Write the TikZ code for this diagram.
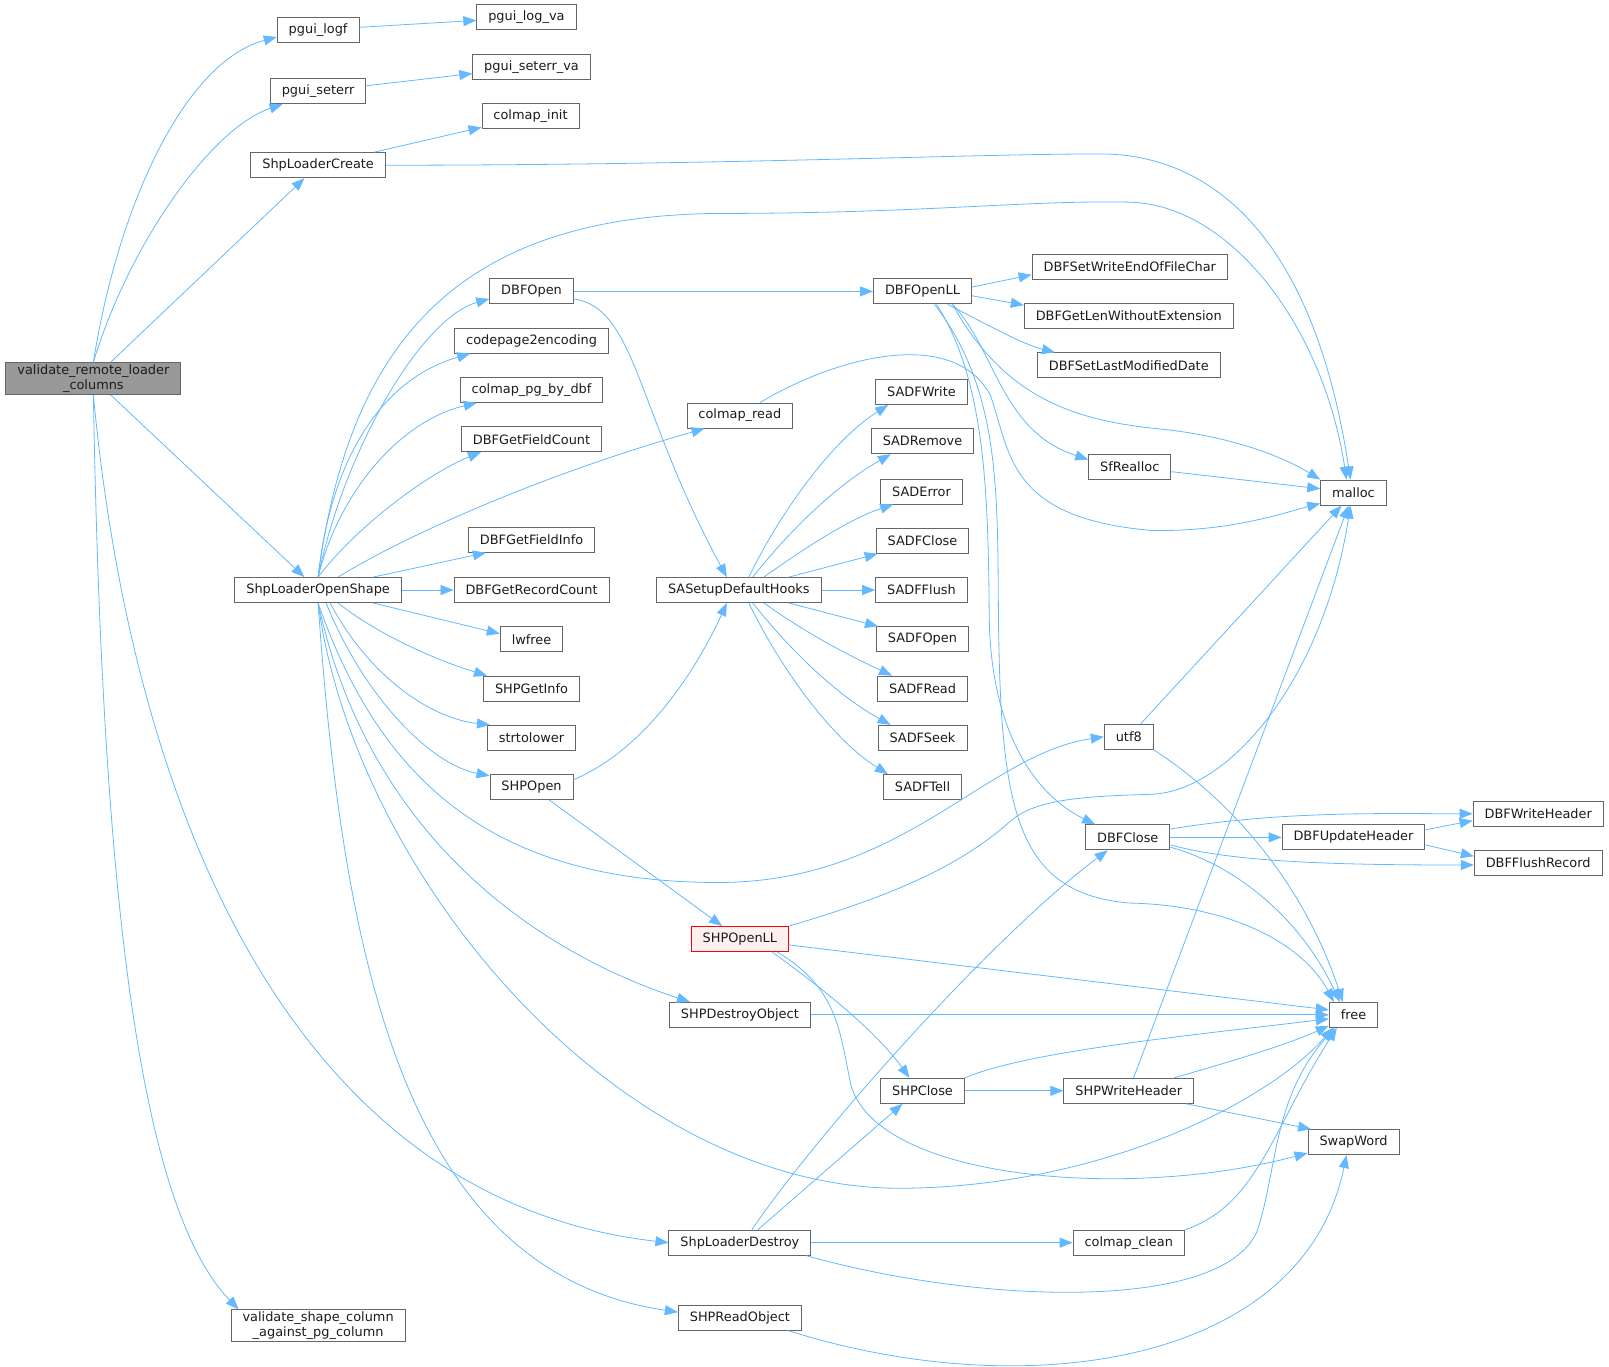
\documentclass[tikz,border=0pt]{standalone}
\usepackage{fontspec}
\setmainfont{DejaVu Sans}
\usetikzlibrary{arrows.meta}
\definecolor{callblue}{HTML}{63B8FF}
\definecolor{boxline}{HTML}{666666}
\definecolor{rootfill}{HTML}{999999}
\definecolor{ovlfill}{HTML}{FFF0F0}
\definecolor{txt}{HTML}{1C1C1C}

\begin{document}
\begin{tikzpicture}[x=1.0262pt, y=-1.0262pt,
  fn/.style={draw=boxline, fill=white, line width=0.9pt, rectangle, minimum height=25pt,
    inner xsep=11.5pt, inner ysep=2pt, text=txt, font=\fontsize{12.9}{15}\selectfont},
  call/.style={draw=callblue, line width=0.8pt, -{Triangle[length=13pt,width=10pt]}}]
\useasboundingbox (0,0) rectangle (1568,1332);

% Functions
\node[fn, fill=rootfill, align=center] (vrlc) at (91,369) {validate\_remote\_loader\\\_columns};
\node[fn] (logf) at (310,29) {pgui\_logf};
\node[fn] (logva) at (513,17) {pgui\_log\_va};
\node[fn] (seterr) at (310,89) {pgui\_seterr};
\node[fn] (seterrva) at (518,65) {pgui\_seterr\_va};
\node[fn] (colinit) at (517,113) {colmap\_init};
\node[fn] (slc) at (310,161) {ShpLoaderCreate};
\node[fn] (slos) at (310,575) {ShpLoaderOpenShape};
\node[fn, align=center] (vscapc) at (310,1292) {validate\_shape\_column\\\_against\_pg\_column};
\node[fn] (dbfopen) at (518,284) {DBFOpen};
\node[fn] (cp2enc) at (518,332) {codepage2encoding};
\node[fn] (colpg) at (518,380) {colmap\_pg\_by\_dbf};
\node[fn] (dbfgfc) at (518,428) {DBFGetFieldCount};
\node[fn] (dbfgfi) at (518,526) {DBFGetFieldInfo};
\node[fn] (dbfgrc) at (518,575) {DBFGetRecordCount};
\node[fn] (lwfree) at (518,623) {lwfree};
\node[fn] (shpgi) at (518,671) {SHPGetInfo};
\node[fn] (strtl) at (518,719) {strtolower};
\node[fn] (shpopen) at (518,767) {SHPOpen};
\node[fn] (colread) at (721,405) {colmap\_read};
\node[fn] (sasdh) at (720,575) {SASetupDefaultHooks};
\node[fn] (sadfwrite) at (898,382) {SADFWrite};
\node[fn] (sadremove) at (899,430) {SADRemove};
\node[fn] (saderror) at (898,479) {SADError};
\node[fn] (sadfclose) at (899,527) {SADFClose};
\node[fn] (sadfflush) at (898,575) {SADFFlush};
\node[fn] (sadfopen) at (899,623) {SADFOpen};
\node[fn] (sadfread) at (899,671) {SADFRead};
\node[fn] (sadfseek) at (899,719) {SADFSeek};
\node[fn] (sadftell) at (899,767) {SADFTell};
\node[fn] (dbfopenll) at (899,284) {DBFOpenLL};
\node[fn] (dbfswe) at (1101,260) {DBFSetWriteEndOfFileChar};
\node[fn] (dbfglwe) at (1100,308) {DBFGetLenWithoutExtension};
\node[fn] (dbfslmd) at (1100,356) {DBFSetLastModifiedDate};
\node[fn] (sfrealloc) at (1101,455) {SfRealloc};
\node[fn] (malloc) at (1319,480) {malloc};
\node[fn] (utf8) at (1100,718) {utf8};
\node[fn] (dbfclose) at (1099,816) {DBFClose};
\node[fn] (dbfuh) at (1319,816) {DBFUpdateHeader};
\node[fn] (dbfwh) at (1499,793) {DBFWriteHeader};
\node[fn] (dbffr) at (1499,841) {DBFFlushRecord};
\node[fn, draw=red, fill=ovlfill] (shpopenll) at (721,915) {SHPOpenLL};
\node[fn] (free) at (1319,989) {free};
\node[fn] (shpdo) at (721,989) {SHPDestroyObject};
\node[fn] (shpclose) at (899,1063) {SHPClose};
\node[fn] (shpwh) at (1100,1063) {SHPWriteHeader};
\node[fn] (swapword) at (1319,1113) {SwapWord};
\node[fn] (sld) at (721,1211) {ShpLoaderDestroy};
\node[fn] (colclean) at (1100,1211) {colmap\_clean};
\node[fn] (shpro) at (721,1284) {SHPReadObject};

% Calls from the root
\draw[call] (vrlc.north) .. controls (115,200) and (180,60) .. (logf.190);
\draw[call] (vrlc.north) .. controls (125,240) and (205,125) .. (seterr.200);
\draw[call] (vrlc) -- (slc);
\draw[call] (vrlc) -- (slos);
\draw[call] (vrlc.south) .. controls (130,800) and (290,1170) .. (sld.west);
\draw[call] (vrlc.south) .. controls (100,900) and (140,1180) .. ([xshift=8pt]vscapc.north west);

% Calls from the loader
\draw[call] (logf) -- (logva);
\draw[call] (seterr) -- (seterrva);
\draw[call] (slc) -- (colinit);
\draw[call] (slc.east) .. controls (700,161) and (950,150) .. (1072,150) .. controls (1180,150) and (1280,230) .. ([xshift=-3pt]malloc.north);
\draw[call] (slos.north) .. controls (340,330) and (450,210) .. (700,208) .. controls (900,208) and (1000,195) .. (1100,197) .. controls (1200,199) and (1290,320) .. ([xshift=-7pt]malloc.north);
\draw[call] (slos.north) .. controls (335,440) and (410,310) .. (dbfopen.190);
\draw[call] (slos.north) .. controls (322,450) and (370,370) .. ([xshift=16pt]cp2enc.south west);
\draw[call] (slos.north) .. controls (330,480) and (390,410) .. ([xshift=17pt]colpg.south west);
\draw[call] (slos.north) .. controls (350,510) and (420,460) .. ([xshift=20pt]dbfgfc.south west);
\draw[call] ([xshift=20pt]slos.north) .. controls (390,525) and (520,465) .. ([xshift=18pt]colread.south west);
\draw[call] ([xshift=55pt]slos.north) -- ([xshift=18pt]dbfgfi.south west);
\draw[call] (slos) -- (dbfgrc);
\draw[call] ([xshift=55pt]slos.south) -- (lwfree.170);
\draw[call] ([xshift=20pt]slos.south) .. controls (370,620) and (430,645) .. ([xshift=4pt]shpgi.north west);
\draw[call] ([xshift=12pt]slos.south) .. controls (360,660) and (420,700) .. ([xshift=3pt]strtl.north west);
\draw[call] ([xshift=8pt]slos.south) .. controls (355,680) and (420,745) .. (shpopen.165);
\draw[call] (slos.south) .. controls (370,760) and (480,860) .. (700,860) .. controls (880,860) and (960,735) .. (utf8.west);
\draw[call] (slos.south) .. controls (345,850) and (600,1160) .. (880,1158) .. controls (1080,1156) and (1240,1070) .. ([xshift=4pt]free.south west);
\draw[call] (slos.south) .. controls (360,820) and (530,930) .. ([xshift=21pt]shpdo.north west);
\draw[call] (slos.south) .. controls (335,950) and (400,1240) .. (shpro.175);

% Calls from the readers
\draw[call] (dbfopen) -- (dbfopenll);
\draw[call] (dbfopen.350) .. controls (620,300) and (620,400) .. ([xshift=-12pt]sasdh.north);
\draw[call] ([xshift=20pt]colread.north) .. controls (820,345) and (930,320) .. (965,385) .. controls (985,440) and (980,505) .. (1123,517) .. controls (1200,518) and (1250,500) .. ([yshift=2pt]malloc.south west);
\draw[call] (shpopen.10) .. controls (630,730) and (680,650) .. ([xshift=-12pt]sasdh.south);
\draw[call] (shpopen) -- (shpopenll);

% Hooks
\draw[call] ([xshift=10pt]sasdh.north) .. controls (760,500) and (810,430) .. ([xshift=13pt]sadfwrite.south west);
\draw[call] ([xshift=14pt]sasdh.north) .. controls (775,510) and (820,470) .. ([xshift=20pt]sadremove.south west);
\draw[call] ([xshift=25pt]sasdh.north) .. controls (790,530) and (830,505) .. ([xshift=13pt]saderror.south west);
\draw[call] ([xshift=50pt]sasdh.north) -- ([xshift=2pt]sadfclose.south west);
\draw[call] (sasdh) -- (sadfflush);
\draw[call] ([xshift=50pt]sasdh.south) -- ([xshift=2pt]sadfopen.north west);
\draw[call] ([xshift=25pt]sasdh.south) .. controls (790,620) and (830,640) .. ([xshift=15pt]sadfread.north west);
\draw[call] ([xshift=14pt]sasdh.south) .. controls (775,640) and (820,680) .. ([xshift=13pt]sadfseek.north west);
\draw[call] ([xshift=10pt]sasdh.south) .. controls (760,650) and (810,720) .. ([xshift=5pt]sadftell.north west);

% DBF layer
\draw[call] (dbfopenll.5) -- ([yshift=5pt]dbfswe.south west);
\draw[call] (dbfopenll.-5) -- ([yshift=-2pt]dbfglwe.north west);
\draw[call] ([xshift=25pt]dbfopenll.south) .. controls (960,315) and (995,335) .. ([xshift=18pt]dbfslmd.north west);
\draw[call] ([xshift=30pt]dbfopenll.south) .. controls (970,340) and (975,420) .. (sfrealloc.170);
\draw[call] ([xshift=30pt]dbfopenll.south) .. controls (980,390) and (1050,410) .. (1130,418) .. controls (1200,425) and (1250,445) .. (malloc.north west);
\draw[call] ([xshift=14pt]dbfopenll.south) .. controls (960,370) and (963,480) .. (964,600) .. controls (965,700) and (1000,770) .. ([xshift=10pt]dbfclose.north west);
\draw[call] ([xshift=12pt]dbfopenll.south) .. controls (975,380) and (972,480) .. (973,600) .. controls (975,790) and (990,870) .. (1100,880) .. controls (1200,882) and (1270,920) .. ([xshift=5pt]free.north west);
\draw[call] (sfrealloc) -- (malloc);
\draw[call] (utf8) -- (malloc);
\draw[call] (utf8.south east) .. controls (1200,780) and (1270,860) .. ([xshift=14pt]free.north west);
\draw[call] (dbfclose.11) .. controls (1250,790) and (1350,793) .. (dbfwh.west);
\draw[call] (dbfclose) -- (dbfuh);
\draw[call] (dbfclose.-10) .. controls (1200,840) and (1300,843) .. ([yshift=-2pt]dbffr.west);
\draw[call] (dbfclose.-13) .. controls (1210,845) and (1270,900) .. ([xshift=11pt]free.north west);
\draw[call] (dbfuh.6) -- (dbfwh.186);
\draw[call] (dbfuh.-6) -- (dbffr.174);

% SHP layer
\draw[call] (shpopenll.north east) .. controls (880,870) and (940,840) .. (985,800) .. controls (1010,778) and (1060,776) .. (1123,774) .. controls (1200,770) and (1290,660) .. ([xshift=-3pt]malloc.south);
\draw[call] ([yshift=-6pt]shpopenll.east) -- ([yshift=5pt]free.west);
\draw[call] ([xshift=-17pt]shpopenll.south east) .. controls (790,955) and (850,1000) .. ([xshift=-13pt]shpclose.north);
\draw[call] ([xshift=-12pt]shpopenll.south east) .. controls (820,965) and (818,1010) .. (830,1060) .. controls (860,1150) and (1100,1170) .. ([yshift=2pt]swapword.south west);
\draw[call] (shpdo) -- (free);
\draw[call] (shpclose.north east) .. controls (1000,1025) and (1150,1010) .. ([yshift=-4pt]free.west);
\draw[call] (shpclose) -- (shpwh);
\draw[call] (shpwh) -- (malloc);
\draw[call] ([xshift=-20pt]shpwh.north east) .. controls (1180,1040) and (1250,1020) .. ([yshift=2pt]free.south west);
\draw[call] ([xshift=-8pt]shpwh.south east) -- (swapword.163);
\draw[call] ([xshift=12pt]sld.north) .. controls (800,1100) and (970,910) .. ([xshift=-20pt]dbfclose.south);
\draw[call] ([xshift=18pt]sld.north) -- ([xshift=-20pt]shpclose.south);
\draw[call] (sld) -- (colclean);
\draw[call] ([xshift=-5pt]sld.south east) .. controls (950,1270) and (1190,1280) .. (1225,1200) .. controls (1245,1140) and (1240,1070) .. ([xshift=6pt]free.south west);
\draw[call] (colclean.north east) .. controls (1225,1175) and (1240,1100) .. ([xshift=8pt]free.south west);
\draw[call] ([xshift=-14pt]shpro.south east) .. controls (1000,1370) and (1270,1330) .. ([xshift=-7pt]swapword.south);
\end{tikzpicture}
\end{document}
